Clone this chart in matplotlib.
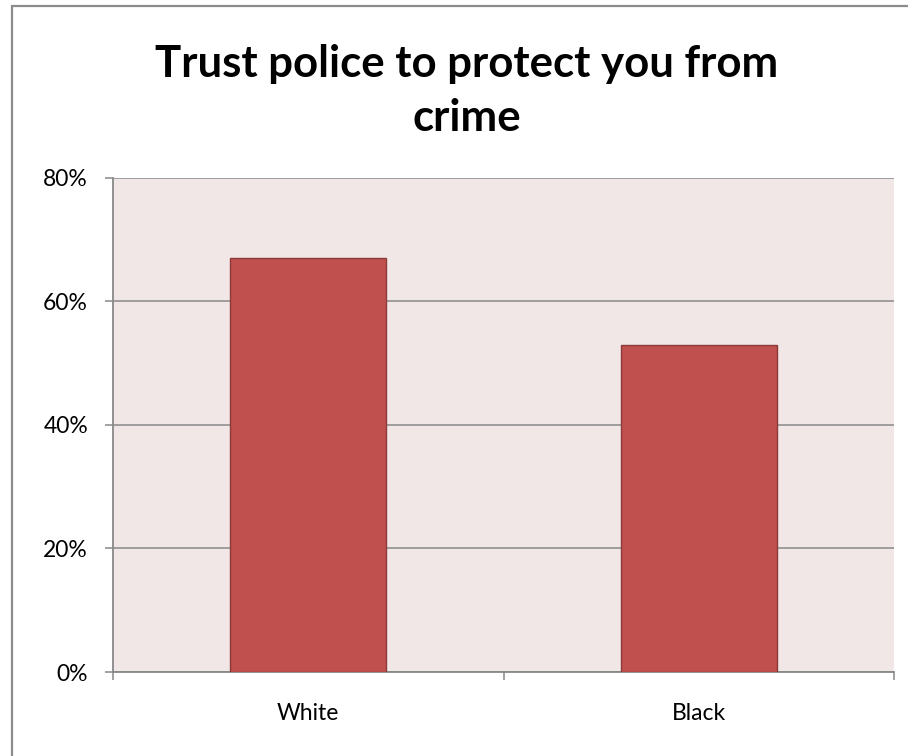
import matplotlib.pyplot as plt
from matplotlib.patches import Rectangle
from matplotlib.ticker import PercentFormatter

categories = ["White", "Black"]
trust_pct = [67, 53]
y_ticks = [0, 20, 40, 60, 80]

plt.rcParams['font.family'] = ['Lato', 'DejaVu Sans']

fig = plt.figure(figsize=(9.08, 7.56), dpi=100)
ax = fig.add_axes([0.1245, 0.1111, 0.8601, 0.6535])

# outer chart border (only top/left visible in the crop)
fig.patches.append(Rectangle((12 / 908, -0.1), 1.2, 1 - 6 / 756 + 0.1,
                             transform=fig.transFigure, fill=False,
                             edgecolor="#8c8c8c", linewidth=1.6))

ax.set_facecolor("#f2e7e7")
xs = range(len(categories))
ax.bar(xs, trust_pct, width=0.4, color="#c0504d", edgecolor="#8c3a38",
       linewidth=1, zorder=3)

ax.set_xlim(-0.5, len(categories) - 0.5)
ax.set_ylim(0, 80)
ax.set_yticks(y_ticks)
ax.yaxis.set_major_formatter(PercentFormatter(decimals=0))
ax.grid(axis="y", color="#888888", linewidth=1.1, zorder=1)

ax.set_xticks([-0.5, 0.5, 1.5])
ax.set_xticklabels([])
ax.set_xticks(list(xs), minor=True)
ax.set_xticklabels(categories, minor=True)
ax.tick_params(axis="x", which="major", length=6, width=1.1, color="#888888",
               direction="out")
ax.tick_params(axis="x", which="minor", length=0, pad=22, labelsize=16.5)
ax.tick_params(axis="y", length=6, width=1.1, color="#888888", pad=12,
               labelsize=16.5)

for side in ["top", "right"]:
    ax.spines[side].set_visible(False)
for side in ["left", "bottom"]:
    ax.spines[side].set_color("#888888")
    ax.spines[side].set_linewidth(1.3)

fig.text(0.514, 0.88, "Trust police to protect you from\ncrime", ha="center",
         va="center", fontsize=31.5, fontweight="bold", linespacing=1.42)

fig.savefig("out.png", dpi=100)
